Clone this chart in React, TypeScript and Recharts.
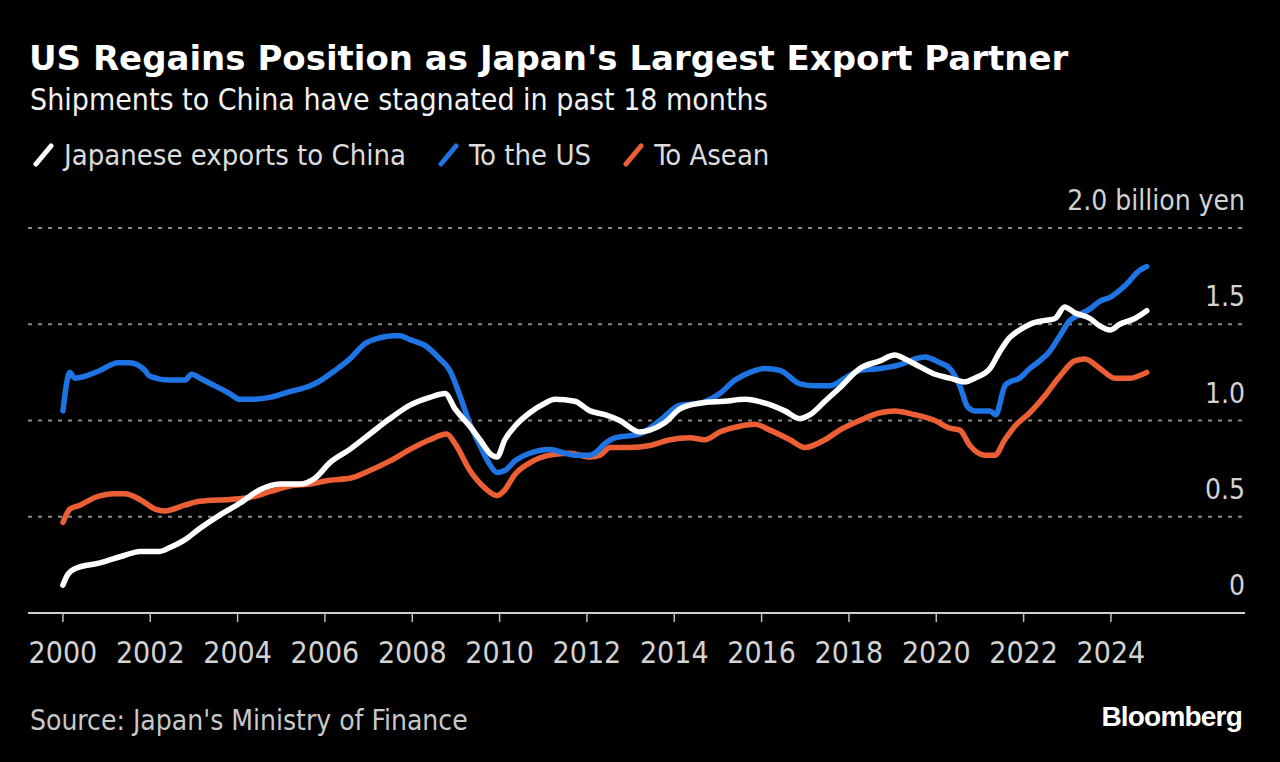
import { LineChart, Line, XAxis, YAxis, CartesianGrid } from "recharts";

const FONT = "'DejaVu Sans Condensed', 'DejaVu Sans', sans-serif";

// x axis ticks (years) and y axis ticks (billion yen)
const xTicks = [2000, 2002, 2004, 2006, 2008, 2010, 2012, 2014, 2016, 2018, 2020, 2022, 2024];
const yTicks = [0, 0.5, 1, 1.5, 2];

// Japanese exports to China
const chinaYears = [
  2000.0, 2000.11, 2000.27, 2000.85, 2001.42, 2001.76, 2002.22, 2002.45, 2002.79, 2003.14,
  2003.6, 2004.05, 2004.51, 2004.97, 2005.43, 2005.77, 2006.11, 2006.57, 2007.03, 2007.49,
  2007.95, 2008.4, 2008.75, 2008.98, 2009.32, 2009.55, 2009.82, 2009.94, 2010.12, 2010.35,
  2010.69, 2011.04, 2011.27, 2011.72, 2012.07, 2012.41, 2012.75, 2013.21, 2013.44, 2013.79,
  2014.13, 2014.59, 2015.16, 2015.62, 2016.08, 2016.53, 2016.88, 2017.11, 2017.45, 2017.79,
  2018.25, 2018.71, 2019.05, 2019.28, 2019.62, 2019.97, 2020.31, 2020.65, 2020.88, 2021.23,
  2021.46, 2021.68, 2021.91, 2022.26, 2022.49, 2022.72, 2022.94, 2023.17, 2023.52, 2023.75,
  2023.98, 2024.2, 2024.55, 2024.82,
];
const chinaValues = [
  0.145, 0.2, 0.23, 0.26, 0.3, 0.32, 0.32, 0.34, 0.38, 0.44,
  0.51, 0.57, 0.64, 0.67, 0.67, 0.7, 0.78, 0.85, 0.93, 1.01,
  1.08, 1.12, 1.14, 1.06, 0.97, 0.9, 0.82, 0.81, 0.9, 0.97,
  1.04, 1.09, 1.11, 1.1, 1.05, 1.03, 1.0, 0.94, 0.95, 0.99,
  1.06, 1.09, 1.1, 1.11, 1.09, 1.05, 1.01, 1.03, 1.1, 1.17,
  1.27, 1.31, 1.34, 1.32, 1.28, 1.24, 1.22, 1.2, 1.22, 1.27,
  1.36, 1.43, 1.47, 1.51, 1.52, 1.53, 1.59, 1.56, 1.53, 1.49,
  1.47, 1.5, 1.53, 1.57,
];

// To the US
const usYears = [
  2000.0, 2000.16, 2000.27, 2000.5, 2000.85, 2001.26, 2001.53, 2001.88, 2001.99, 2002.45,
  2002.79, 2002.95, 2003.14, 2003.48, 2003.82, 2004.05, 2004.28, 2004.74, 2005.2, 2005.66,
  2005.84, 2006.23, 2006.57, 2006.92, 2007.26, 2007.6, 2007.72, 2007.95, 2008.29, 2008.63,
  2008.86, 2009.09, 2009.32, 2009.55, 2009.78, 2009.94, 2010.12, 2010.35, 2010.69, 2011.15,
  2011.5, 2011.72, 2012.07, 2012.18, 2012.41, 2012.64, 2013.21, 2013.67, 2014.13, 2014.59,
  2015.04, 2015.39, 2015.73, 2016.08, 2016.42, 2016.88, 2017.22, 2017.56, 2017.91, 2018.25,
  2018.71, 2019.17, 2019.51, 2019.74, 2020.08, 2020.31, 2020.54, 2020.72, 2020.88, 2021.23,
  2021.36, 2021.57, 2021.68, 2021.91, 2022.14, 2022.37, 2022.6, 2022.83, 2023.06, 2023.29,
  2023.52, 2023.75, 2023.98, 2024.32, 2024.66, 2024.82,
];
const usValues = [
  1.05, 1.25, 1.22, 1.23, 1.26, 1.3, 1.3, 1.26, 1.23, 1.21,
  1.21, 1.24, 1.22, 1.18, 1.14, 1.11, 1.11, 1.12, 1.15, 1.18,
  1.2, 1.26, 1.32, 1.4, 1.43, 1.44, 1.44, 1.42, 1.39, 1.32,
  1.26, 1.13, 0.98, 0.87, 0.77, 0.73, 0.74, 0.79, 0.83, 0.85,
  0.83, 0.82, 0.82, 0.83, 0.88, 0.91, 0.93, 1.0, 1.08, 1.09,
  1.14, 1.21, 1.25, 1.27, 1.26, 1.19, 1.18, 1.18, 1.22, 1.26,
  1.27, 1.29, 1.32, 1.33, 1.3, 1.27, 1.18, 1.07, 1.05, 1.05,
  1.03, 1.18, 1.2, 1.22, 1.27, 1.31, 1.36, 1.44, 1.52, 1.55,
  1.58, 1.62, 1.64, 1.7, 1.78, 1.8,
];

// To Asean
const aseanYears = [
  2000.0, 2000.16, 2000.39, 2000.73, 2001.19, 2001.42, 2001.76, 2002.11, 2002.34, 2002.79,
  2003.14, 2003.82, 2004.28, 2004.74, 2005.2, 2005.66, 2006.11, 2006.57, 2007.03, 2007.49,
  2007.95, 2008.4, 2008.79, 2008.98, 2009.32, 2009.66, 2009.94, 2010.12, 2010.35, 2010.69,
  2011.15, 2011.61, 2012.07, 2012.3, 2012.53, 2012.98, 2013.44, 2013.9, 2014.36, 2014.7,
  2015.04, 2015.5, 2015.85, 2016.19, 2016.65, 2016.99, 2017.45, 2017.79, 2018.25, 2018.71,
  2019.05, 2019.51, 2019.97, 2020.31, 2020.54, 2020.77, 2021.11, 2021.34, 2021.57, 2021.8,
  2022.14, 2022.49, 2022.83, 2023.17, 2023.4, 2023.75, 2024.09, 2024.43, 2024.82,
];
const aseanValues = [
  0.47, 0.54, 0.56, 0.6, 0.62, 0.62, 0.59, 0.54, 0.53, 0.56,
  0.58, 0.59, 0.6, 0.63, 0.66, 0.67, 0.69, 0.7, 0.74, 0.79,
  0.85, 0.9, 0.93, 0.88, 0.74, 0.65, 0.61, 0.64, 0.72, 0.78,
  0.82, 0.83, 0.81, 0.82, 0.86, 0.86, 0.87, 0.9, 0.91, 0.9,
  0.94, 0.97, 0.98, 0.95, 0.9, 0.86, 0.9, 0.95, 1.0, 1.04,
  1.05, 1.03, 1.0, 0.96, 0.95, 0.87, 0.82, 0.82, 0.9, 0.97,
  1.04, 1.13, 1.23, 1.31, 1.32, 1.27, 1.22, 1.22, 1.25,
];

const toPoints = (years: number[], values: number[]) =>
  years.map((t, i) => ({ t, v: values[i] }));

const SERIES = [
  { name: "Japanese exports to China", color: "#ffffff", data: toPoints(chinaYears, chinaValues) },
  { name: "To the US", color: "#1f74e4", data: toPoints(usYears, usValues) },
  { name: "To Asean", color: "#ec5f35", data: toPoints(aseanYears, aseanValues) },
];
// drawing order: Asean at the bottom, China on top
const DRAW_ORDER = [2, 1, 0];

const formatY = (v: number) => (v === 0 ? "0" : v === 2 ? "2.0 billion yen" : v.toFixed(1));

const renderYTick = (props: any) => {
  const { x, y, payload } = props;
  return (
    <text key={payload.value} x={x} y={y - 18} textAnchor="end" fill="#d2d2d2" fontSize={28} fontFamily={FONT}>
      {formatY(payload.value)}
    </text>
  );
};

export default function App() {
  return (
    <div
      style={{
        position: "absolute",
        left: 0,
        top: 0,
        width: 1280,
        height: 762,
        background: "#000",
        overflow: "hidden",
        fontFamily: FONT,
      }}
    >
      <div
        style={{
          position: "absolute",
          left: 29,
          top: 38,
          fontFamily: "'DejaVu Sans', sans-serif",
          fontWeight: "bold",
          fontSize: 34,
          color: "#fff",
          whiteSpace: "nowrap",
        }}
      >
        US Regains Position as Japan's Largest Export Partner
      </div>
      <div
        style={{ position: "absolute", left: 30, top: 82, fontSize: 30, color: "#f2f2f2", whiteSpace: "nowrap" }}
      >
        Shipments to China have stagnated in past 18 months
      </div>

      {/* legend */}
      <div
        style={{
          position: "absolute",
          left: 33,
          top: 138,
          display: "flex",
          alignItems: "center",
          fontSize: 29,
          color: "#dcdcdc",
          whiteSpace: "nowrap",
        }}
      >
        {SERIES.map((s) => (
          <div key={s.name} style={{ display: "flex", alignItems: "center", marginRight: 32 }}>
            <svg width={22} height={24} style={{ marginRight: 9 }}>
              <line x1={3} y1={21} x2={18} y2={3} stroke={s.color} strokeWidth={5} strokeLinecap="round" />
            </svg>
            <span>{s.name}</span>
          </div>
        ))}
      </div>

      <div style={{ position: "absolute", left: 0, top: 0 }}>
        <LineChart width={1280} height={762} margin={{ top: 228, right: 34, bottom: 109, left: 28 }}>
          <CartesianGrid vertical={false} stroke="#8a8a8a" strokeWidth={2} strokeDasharray="4 6" />
          <XAxis
            type="number"
            dataKey="t"
            domain={[1999.2, 2027.07]}
            ticks={xTicks}
            allowDataOverflow
            height={40}
            axisLine={{ stroke: "#cfcfcf", strokeWidth: 2 }}
            tickLine={{ stroke: "#bdbdbd", strokeWidth: 1.5 }}
            tickSize={9}
            tickMargin={20}
            tick={{ fill: "#d2d2d2", fontSize: 30, fontFamily: FONT }}
          />
          <YAxis
            orientation="right"
            type="number"
            domain={[0, 2]}
            ticks={yTicks}
            width={1}
            axisLine={false}
            tickLine={false}
            tickSize={0}
            tickMargin={0}
            tick={renderYTick}
          />
          {DRAW_ORDER.map((i) => {
            const s = SERIES[i];
            return (
              <Line
                key={s.name}
                data={s.data}
                dataKey="v"
                name={s.name}
                type="monotone"
                stroke={s.color}
                strokeWidth={5.5}
                strokeLinecap="round"
                strokeLinejoin="round"
                dot={false}
                activeDot={false}
                isAnimationActive={false}
              />
            );
          })}
        </LineChart>
      </div>

      <div style={{ position: "absolute", left: 30, top: 704, fontSize: 28, color: "#c8c8c8", whiteSpace: "nowrap" }}>
        Source: Japan's Ministry of Finance
      </div>
      <div
        style={{
          position: "absolute",
          right: 38,
          top: 701,
          fontFamily: "'Liberation Sans', Arial, sans-serif",
          fontWeight: "bold",
          fontSize: 28,
          letterSpacing: -0.8,
          color: "#fff",
        }}
      >
        Bloomberg
      </div>
    </div>
  );
}
